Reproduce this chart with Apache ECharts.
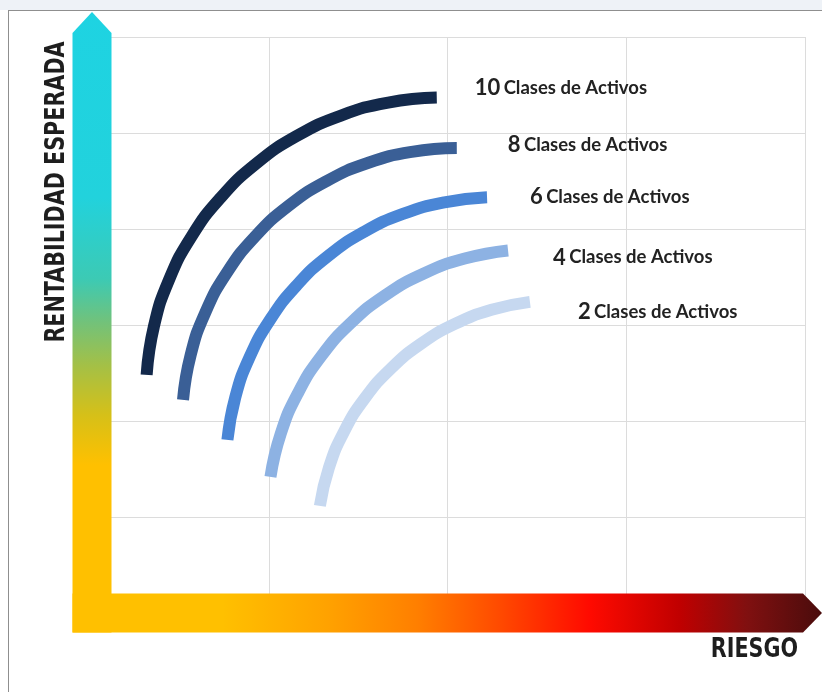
<!DOCTYPE html>
<html><head><meta charset="utf-8">
<style>html,body{margin:0;padding:0;background:#fff}#c{width:822px;height:692px}</style>
<script src="https://cdn.jsdelivr.net/npm/echarts@6/dist/echarts.min.js"></script>
</head><body><div id="c"></div>
<script>
// ---- data ----
const xAxisTitle = 'RIESGO';
const yAxisTitle = 'RENTABILIDAD ESPERADA';
const classCounts = ['10', '8', '6', '4', '2'];
const classText = 'Clases de Activos';
const xRange = [0, 100, 25];
const yRange = [0, 60, 10];
// points: [riesgo, rentabilidad]
const frontier10 = [[7.92,24.81],[8.94,29.85],[11.05,34.70],[14.19,39.21],[18.29,43.28],[23.24,46.81],[28.90,49.68],[35.10,51.82],[41.70,53.17],[48.50,53.69]];
const frontier8  = [[13.01,22.20],[14.07,26.85],[16.14,31.32],[19.16,35.47],[23.06,39.19],[27.73,42.39],[33.04,44.97],[38.84,46.87],[44.99,48.03],[51.30,48.43]];
const frontier6  = [[19.22,18.03],[20.31,22.44],[22.33,26.66],[25.22,30.59],[28.91,34.13],[33.30,37.19],[38.30,39.69],[43.76,41.57],[49.56,42.78],[55.53,43.30]];
const frontier4  = [[25.24,14.18],[26.67,18.65],[29.07,22.88],[32.36,26.77],[36.45,30.19],[41.25,33.08],[46.62,35.34],[52.41,36.92],[58.47,37.77]];
const frontier2  = [[32.15,11.16],[33.42,15.14],[35.54,18.91],[38.45,22.38],[42.06,25.45],[46.29,28.05],[51.03,30.11],[56.16,31.58],[61.53,32.41]];
const frontiers = [frontier10, frontier8, frontier6, frontier4, frontier2];

// ---- style ----
const lineColors = ['#13294b', '#3a5f96', '#4a86d6', '#8db2e3', '#c6d8f0'];
const labelOffsets = [[38, -10], [51, -3], [43, 0], [45, 7], [48, 10]];
const labelFont = 'Lato, "Open Sans", sans-serif';
const titleFont = '"DejaVu Sans Condensed", "Liberation Sans", sans-serif';

const chart = echarts.init(document.getElementById('c'), null, {renderer: 'canvas'});

const series = frontiers.map((pts, i) => ({
  type: 'line',
  name: classCounts[i] + ' ' + classText,
  data: pts,
  smooth: 0.5,
  symbol: 'none',
  clip: false,
  z: 10,
  lineStyle: {color: lineColors[i], width: 12, cap: 'butt'},
  endLabel: {
    show: true,
    distance: 0,
    offset: labelOffsets[i],
    formatter: () => '{n|' + classCounts[i] + '} {t|' + classText + '}',
    rich: {
      n: {fontFamily: labelFont, fontWeight: 'bold', fontSize: 22, color: '#222222'},
      t: {fontFamily: labelFont, fontWeight: 'bold', fontSize: 18.5, color: '#222222'}
    }
  },
  emphasis: {disabled: true}
}));

const splitStyle = {show: true, lineStyle: {color: '#dcdcdc', width: 1}};
chart.setOption({
  animation: false,
  backgroundColor: '#ffffff',
  grid: {left: 90, right: 17, top: 37, bottom: 79},
  xAxis: {type: 'value', min: xRange[0], max: xRange[1], interval: xRange[2],
    axisLine: {show: false}, axisTick: {show: false}, axisLabel: {show: false}, splitLine: splitStyle},
  yAxis: {type: 'value', min: yRange[0], max: yRange[1], interval: yRange[2],
    axisLine: {show: false}, axisTick: {show: false}, axisLabel: {show: false}, splitLine: splitStyle},
  series: series
});

// axis arrows tied to the grid
const o = chart.convertToPixel({gridIndex: 0}, [xRange[0], yRange[0]]);
const tr = chart.convertToPixel({gridIndex: 0}, [xRange[1], yRange[1]]);
const half = 19.5;
const cx = o[0] + 2, cy = o[1];

const vGrad = new echarts.graphic.LinearGradient(0, 0, 0, 1, [
  {offset: 0, color: '#1ed3e2'}, {offset: 0.3, color: '#22d2dc'},
  {offset: 0.43, color: '#3ccab4'}, {offset: 0.5, color: '#72c27a'},
  {offset: 0.57, color: '#a4c046'}, {offset: 0.65, color: '#d6c018'},
  {offset: 0.73, color: '#ffc000'}, {offset: 1, color: '#ffc000'}
]);
const hGrad = new echarts.graphic.LinearGradient(0, 0, 1, 0, [
  {offset: 0, color: '#ffc000'}, {offset: 0.2, color: '#ffc000'},
  {offset: 0.34, color: '#ffa200'}, {offset: 0.46, color: '#ff7f00'},
  {offset: 0.57, color: '#ff4a00'}, {offset: 0.69, color: '#ff0a00'},
  {offset: 0.81, color: '#c00000'}, {offset: 0.9, color: '#801010'},
  {offset: 1, color: '#4a0c0c'}
]);

chart.setOption({
  graphic: [
    {type: 'rect', silent: true, z: 1, shape: {x: 0, y: 0, width: 822, height: 10}, style: {fill: '#eef2f7'}},
    {type: 'line', silent: true, z: 1, shape: {x1: 8.5, y1: 10, x2: 8.5, y2: 692}, style: {stroke: '#8f8f8f', lineWidth: 1}},
    {type: 'line', silent: true, z: 1, shape: {x1: 8, y1: 10.5, x2: 822, y2: 10.5}, style: {stroke: '#8f8f8f', lineWidth: 1}},
    {type: 'polygon', silent: true, z: 5, shape: {points: [
      [cx - half, cy - half], [tr[0] - 2, cy - half], [tr[0] + 17, cy], [tr[0] - 2, cy + half], [cx - half, cy + half]
    ]}, style: {fill: hGrad}},
    {type: 'polygon', silent: true, z: 6, shape: {points: [
      [cx - half, cy + half], [cx - half, tr[1] - 4], [cx, tr[1] - 25], [cx + half, tr[1] - 4], [cx + half, cy + half]
    ]}, style: {fill: vGrad}},
    {type: 'text', silent: true, z: 6, x: cx - 35, y: tr[1] + 155, rotation: Math.PI / 2, scaleY: 1.15,
      style: {text: yAxisTitle, font: 'bold 23px ' + titleFont, fill: '#1e1e1e',
        align: 'center', verticalAlign: 'middle', textAlign: 'center', textVerticalAlign: 'middle'}},
    {type: 'text', silent: true, z: 6, x: tr[0] - 7, y: cy + 37, scaleY: 1.12,
      style: {text: xAxisTitle, font: 'bold 23px ' + titleFont, fill: '#1e1e1e',
        align: 'right', verticalAlign: 'middle', textAlign: 'right', textVerticalAlign: 'middle'}}
  ]
});
</script></body></html>
